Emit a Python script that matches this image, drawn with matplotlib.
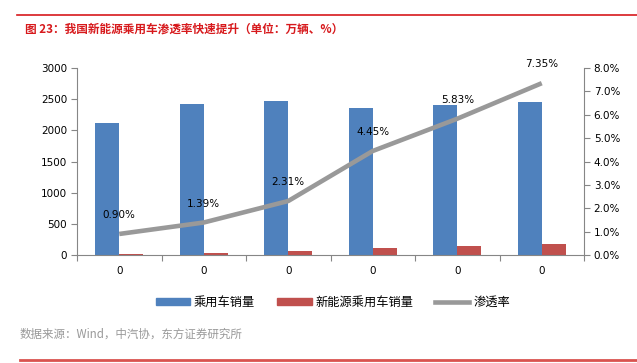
import numpy as np
import matplotlib
matplotlib.use("Agg")
import matplotlib.pyplot as plt
from matplotlib.lines import Line2D
from matplotlib.patches import Patch

plt.rcParams['font.family'] = ['Noto Sans CJK SC', 'DejaVu Sans']

# 数据
categories = ['0', '0', '0', '0', '0', '0']
sales = [2115, 2422, 2470, 2360, 2405, 2452]          # 乘用车销量
nev_sales = [20, 34, 57, 106, 140, 182]               # 新能源乘用车销量
penetration = [0.90, 1.39, 2.31, 4.45, 5.83, 7.35]    # 渗透率 %
pen_labels = ['0.90%', '1.39%', '2.31%', '4.45%', '5.83%', '7.35%']

W, H = 637, 363
fig = plt.figure(figsize=(W / 100, H / 100), dpi=100)

blue = '#4F81BD'
red = '#C0504D'
gray = '#999999'
axis_c = '#868686'
title_red = '#D7191C'

ax = fig.add_axes([77 / W, (H - 255) / H, (584 - 77) / W, (255 - 68) / H])
x = np.arange(len(categories))
bw = 0.285
ax.bar(x - bw / 2, sales, bw, color=blue, zorder=2)
ax.bar(x + bw / 2, nev_sales, bw, color=red, zorder=2)
ax.set_xlim(-0.5, len(categories) - 0.5)
ax.set_ylim(0, 3000)
ax.set_yticks(np.arange(0, 3001, 500))
ax.set_xticks(np.arange(-0.5, len(categories), 1.0))
ax.set_xticklabels([])
ax.set_xticks(x, minor=True)
ax.set_xticklabels(categories, minor=True)
ax.tick_params(axis='x', which='minor', length=0, pad=8, labelsize=7.5)
ax.tick_params(axis='x', which='major', length=4, color=axis_c)
ax.tick_params(axis='y', length=4, color=axis_c, labelsize=7.5, pad=3)
for s in ['top', 'right']:
    ax.spines[s].set_visible(False)
for s in ['left', 'bottom']:
    ax.spines[s].set_color(axis_c)

ax2 = ax.twinx()
ax2.plot(x, penetration, color=gray, lw=3.3, solid_capstyle='butt', zorder=3)
for xi, yi, lab in zip(x, penetration, pen_labels):
    ax2.annotate(lab, (xi, yi), xytext=(0, 10), textcoords='offset points',
                 ha='center', va='bottom', fontsize=7.5, family='DejaVu Sans')
ax2.set_ylim(0, 8)
ax2.set_yticks(np.arange(0, 8.01, 1))
ax2.set_yticklabels(['%.1f%%' % v for v in np.arange(0, 8.01, 1)])
ax2.tick_params(axis='y', length=4, color=axis_c, labelsize=7.5, pad=3)
for s in ['top', 'left', 'bottom']:
    ax2.spines[s].set_visible(False)
ax2.spines['right'].set_color(axis_c)

for a in (ax, ax2):
    for t in a.get_yticklabels() + a.get_xticklabels(which='both'):
        t.set_family('DejaVu Sans')

# 图例
handles = [Patch(color=blue, label='乘用车销量'),
           Patch(color=red, label='新能源乘用车销量'),
           Line2D([], [], color=gray, lw=3.3, label='渗透率')]
fig.legend(handles=handles, loc='center', bbox_to_anchor=(333 / W, (H - 302) / H),
           ncol=3, frameon=False, fontsize=8.8, handlelength=2.8, handleheight=0.5,
           columnspacing=1.8, handletextpad=0.3)

# 标题与来源
fig.add_artist(Line2D([17 / W, 1], [(H - 15) / H] * 2, color=title_red, lw=1.2))
fig.text(25 / W, (H - 29) / H, '图 23：我国新能源乘用车渗透率快速提升（单位：万辆、%）',
         color=title_red, fontsize=8.4, fontweight='bold', va='center', ha='left')
fig.text(20 / W, (H - 334) / H, '数据来源：Wind，中汽协，东方证券研究所',
         color='#999999', fontsize=8.3, va='center', ha='left')
fig.add_artist(Line2D([20 / W, 1], [(H - 360) / H] * 2, color='#D9534F', lw=2))

fig.savefig('out.png', dpi=100)
